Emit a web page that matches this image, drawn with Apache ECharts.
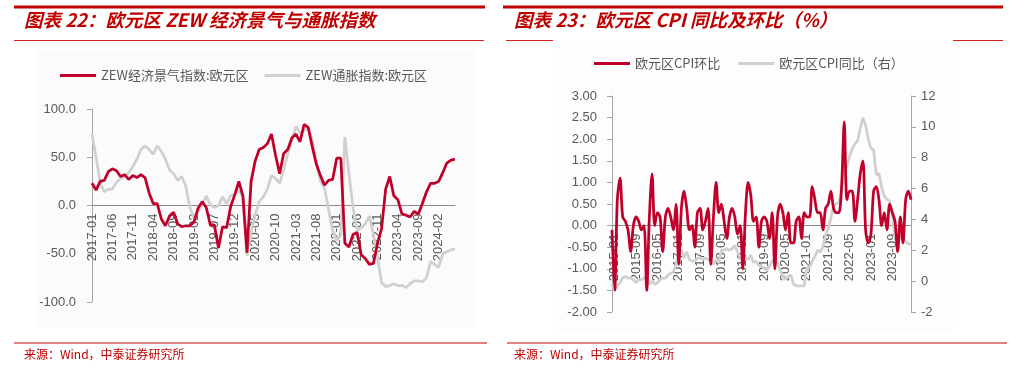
<!DOCTYPE html>
<html><head><meta charset="utf-8">
<script src="https://cdn.jsdelivr.net/npm/echarts@6/dist/echarts.min.js"></script>
<style>html,body{margin:0;padding:0;background:#fff}#c{width:1012px;height:367px}</style>
</head><body><div id="c"></div>
<script>
// ---------- Chart 22: ZEW (monthly 2017-01 .. 2024-06) ----------
const zewMonths = [];
for (let y = 2017; y <= 2024; y++) for (let m = 1; m <= 12; m++) {
  if (y === 2024 && m > 6) break;
  zewMonths.push(y + '-' + String(m).padStart(2, '0'));
}
const zewSentiment = [23,16,25,26,35,38,36,30,32,27,31,29,
  32,29,13,2,2,-14,-21,-11,-7,-19,-22,-21,
  -21,-17,-3,4,-2,-20,-20,-44,-22,-23,-1,11,
  25,10,-49,25,46,58,60,64,74,52,33,54,
  58,70,74,66,84,81,61,43,31,21,26,27,
  49,49,-39,-43,-30,-28,-51,-55,-61,-60,-39,-24,
  17,30,10,6,-9,-10,-12,-6,-9,2,14,23,
  23,25,34,44,47,48];
const zewInflation = [74,50,24,14,17,17,24,28,30,34,40,48,
  58,62,58,53,62,56,48,37,33,26,30,20,
  -2,-13,-6,0,10,1,-2,0,9,2,10,12,
  16,9,-52,-28,-10,4,9,17,31,28,23,37,
  54,68,82,75,78,80,68,45,25,18,-4,-26,
  -36,-31,71,33,-2,-26,-23,-19,-11,-30,-54,-80,
  -84,-83,-81,-83,-83,-85,-81,-78,-78,-79,-75,-58,
  -61,-64,-50,-48,-46,-45];
const zewTicks = [-100, -50, 0, 50, 100];

// ---------- Chart 23: Euro area CPI (monthly 2014-12 .. 2024-04) ----------
const cpiMonths = ['2014-12'];
for (let y = 2015; y <= 2024; y++) for (let m = 1; m <= 12; m++) {
  if (y === 2024 && m > 4) break;
  cpiMonths.push(y + '-' + String(m).padStart(2, '0'));
}
const cpiMoM = [-0.1,
  -1.5,0.6,1.1,0.2,0.1,-0.1,-0.6,0.0,0.2,0.1,-0.1,0.0,
  -1.5,0.2,1.2,0.0,0.3,0.2,-0.6,0.2,0.4,0.2,-0.1,0.5,
  -0.9,0.4,0.8,0.4,-0.1,0.0,-0.5,0.3,0.4,-0.1,0.1,0.4,
  -0.9,0.2,1.0,0.3,0.5,0.1,-0.3,0.2,0.4,0.2,-0.2,0.0,
  -1.0,0.3,1.0,0.7,0.1,0.2,-0.5,0.1,0.2,0.1,-0.3,0.3,
  -1.0,0.2,0.5,0.3,-0.1,0.3,-0.4,-0.4,0.1,0.2,-0.3,0.3,
  0.2,0.2,0.9,0.6,0.3,0.3,-0.1,0.4,0.5,0.8,0.4,0.3,
  0.3,0.9,2.4,0.6,0.8,0.8,0.1,0.6,1.2,1.5,-0.1,-0.4,
  -0.2,0.8,0.9,0.6,0.0,0.3,-0.1,0.5,0.3,0.1,-0.6,0.2,
  -0.4,0.6,0.8,0.6];
const cpiYoY = [-0.2,
  -0.6,-0.3,-0.1,0.2,0.3,0.2,0.2,0.1,-0.1,0.1,0.1,0.2,
  0.3,-0.2,0.0,-0.2,-0.1,0.1,0.2,0.2,0.4,0.5,0.6,1.1,
  1.8,2.0,1.5,1.9,1.4,1.3,1.3,1.5,1.5,1.4,1.5,1.4,
  1.3,1.1,1.4,1.2,2.0,2.0,2.1,2.0,2.1,2.3,1.9,1.5,
  1.4,1.5,1.4,1.7,1.2,1.3,1.0,1.0,0.8,0.7,1.0,1.3,
  1.4,1.2,0.7,0.3,0.1,0.3,0.4,-0.2,-0.3,-0.3,-0.3,-0.3,
  0.9,0.9,1.3,1.6,2.0,1.9,2.2,3.0,3.4,4.1,4.9,5.0,
  5.1,5.9,7.4,7.4,8.1,8.6,8.9,9.1,9.9,10.6,10.1,9.2,
  8.6,8.5,6.9,7.0,6.1,5.5,5.3,5.2,4.3,2.9,2.4,2.9,
  2.8,2.6,2.4,2.4];
const cpiLeftTicks = [-2, 3, 0.5];
const cpiRightTicks = [-2, 12, 2];

const titles = ['图表 22：欧元区 ZEW 经济景气与通胀指数', '图表 23：欧元区 CPI 同比及环比（%）'];
const sourceText = '来源：Wind，中泰证券研究所';
const names = ['ZEW经济景气指数:欧元区', 'ZEW通胀指数:欧元区', '欧元区CPI环比', '欧元区CPI同比（右）'];

const RED = '#C0002A', GRAY = '#D0D0D0', TXT = '#595959', AX = '#A6A6A6', TRED = '#C00000';
const FONT = '"Liberation Sans", Arial, sans-serif';
const CJK = '"Noto Sans CJK SC", sans-serif';

// grid geometry
const G0 = {left: 92, right: 557, top: 109, bottom: 65};
const G1 = {left: 612, right: 101, top: 96, bottom: 55};
const H = 367;
// shift of the category axis from the grid bottom up to the value 0 of its value axis
function zeroOffset(g, min, max) {
  const h = H - g.top - g.bottom;
  return -h * (0 - min) / (max - min);
}

const chart = echarts.init(document.getElementById('c'), null, {renderer: 'canvas'});

function yAx(gridIndex, min, max, interval, dec, pos, margin) {
  return {
    type: 'value', gridIndex, min, max, interval, position: pos,
    axisLine: {show: true, lineStyle: {color: AX, width: 1}},
    axisTick: {show: true, length: 5, lineStyle: {color: AX}},
    splitLine: {show: false},
    axisLabel: {color: TXT, fontSize: 13, fontFamily: FONT, margin: margin,
      formatter: v => v.toFixed(dec)}
  };
}

const option = {
  animation: false,
  backgroundColor: '#fff',
  grid: [G0, G1],
  legend: [
    {data: [names[0], names[1]], left: 55, top: 64, itemWidth: 36, itemHeight: 3, itemGap: 16, icon: 'rect',
      textStyle: {color: TXT, fontSize: 13, fontFamily: CJK}},
    {data: [names[2], names[3]], left: 589, top: 52, itemWidth: 36, itemHeight: 3, itemGap: 18, icon: 'rect',
      textStyle: {color: TXT, fontSize: 13, fontFamily: CJK}}
  ],
  xAxis: [
    {type: 'category', gridIndex: 0, data: zewMonths, boundaryGap: false, position: 'bottom',
      offset: zeroOffset(G0, zewTicks[0], zewTicks[zewTicks.length - 1]),
      axisLine: {onZero: false, lineStyle: {color: '#8C8C8C', width: 1}},
      axisTick: {show: false},
      axisLabel: {rotate: 90, interval: 4, color: TXT, fontSize: 13, fontFamily: FONT, margin: 8}},
    {type: 'category', gridIndex: 1, data: cpiMonths, boundaryGap: false, position: 'bottom',
      offset: zeroOffset(G1, cpiLeftTicks[0], cpiLeftTicks[1]),
      axisLine: {onZero: false, lineStyle: {color: '#8C8C8C', width: 1}},
      axisTick: {show: false},
      axisLabel: {rotate: 90, interval: (i) => i % 8 === 1, color: TXT, fontSize: 13, fontFamily: FONT, margin: 8}}
  ],
  yAxis: [
    yAx(0, zewTicks[0], zewTicks[zewTicks.length - 1], zewTicks[1] - zewTicks[0], 1, 'left', 16),
    yAx(1, cpiLeftTicks[0], cpiLeftTicks[1], cpiLeftTicks[2], 2, 'left', 15),
    yAx(1, cpiRightTicks[0], cpiRightTicks[1], cpiRightTicks[2], 0, 'right', 10)
  ],
  series: [
    {name: names[1], type: 'line', xAxisIndex: 0, yAxisIndex: 0, data: zewInflation, showSymbol: false,
      lineStyle: {color: GRAY, width: 2.75}, itemStyle: {color: GRAY}},
    {name: names[0], type: 'line', xAxisIndex: 0, yAxisIndex: 0, data: zewSentiment, showSymbol: false,
      lineStyle: {color: RED, width: 2.75}, itemStyle: {color: RED}},
    {name: names[3], type: 'line', xAxisIndex: 1, yAxisIndex: 2, data: cpiYoY, showSymbol: false,
      lineStyle: {color: GRAY, width: 2.75}, itemStyle: {color: GRAY}},
    {name: names[2], type: 'line', xAxisIndex: 1, yAxisIndex: 1, data: cpiMoM, showSymbol: false, smooth: 0.3,
      lineStyle: {color: RED, width: 2.75}, itemStyle: {color: RED}}
  ],
  graphic: [
    {type: 'rect', z: -10, shape: {x: 37, y: 50, width: 438, height: 278}, style: {fill: '#FBFBFB'}},
    {type: 'rect', z: -10, shape: {x: 553, y: 41, width: 400, height: 290}, style: {fill: '#FDFDFD'}},
    {type: 'line', shape: {x1: 14, y1: 7, x2: 485, y2: 7}, style: {stroke: TRED, lineWidth: 3}},
    {type: 'line', shape: {x1: 503, y1: 7, x2: 1003, y2: 7}, style: {stroke: TRED, lineWidth: 3}},
    {type: 'line', shape: {x1: 14, y1: 40.5, x2: 484, y2: 40.5}, style: {stroke: '#D42020', lineWidth: 1}},
    {type: 'line', shape: {x1: 506, y1: 40.5, x2: 553, y2: 40.5}, style: {stroke: '#D42020', lineWidth: 1}},
    {type: 'line', shape: {x1: 953, y1: 40.5, x2: 1003, y2: 40.5}, style: {stroke: '#D42020', lineWidth: 1}},
    {type: 'text', left: 24, top: 11, style: {text: titles[0], fill: TRED,
      font: 'italic bold 18.5px "Noto Sans CJK SC", sans-serif'}},
    {type: 'text', left: 514, top: 11, style: {text: titles[1], fill: TRED,
      font: 'italic bold 18.5px "Noto Sans CJK SC", sans-serif'}},
    {type: 'line', shape: {x1: 14, y1: 343, x2: 487, y2: 343}, style: {stroke: '#E58080', lineWidth: 2}},
    {type: 'line', shape: {x1: 507, y1: 343, x2: 1007, y2: 343}, style: {stroke: '#E58080', lineWidth: 2}},
    {type: 'text', left: 24, top: 348, style: {text: sourceText, fill: TRED, font: '12px "Noto Sans CJK SC", sans-serif'}},
    {type: 'text', left: 514, top: 348, style: {text: sourceText, fill: TRED, font: '12px "Noto Sans CJK SC", sans-serif'}}
  ]
};
chart.setOption(option);
</script></body></html>
